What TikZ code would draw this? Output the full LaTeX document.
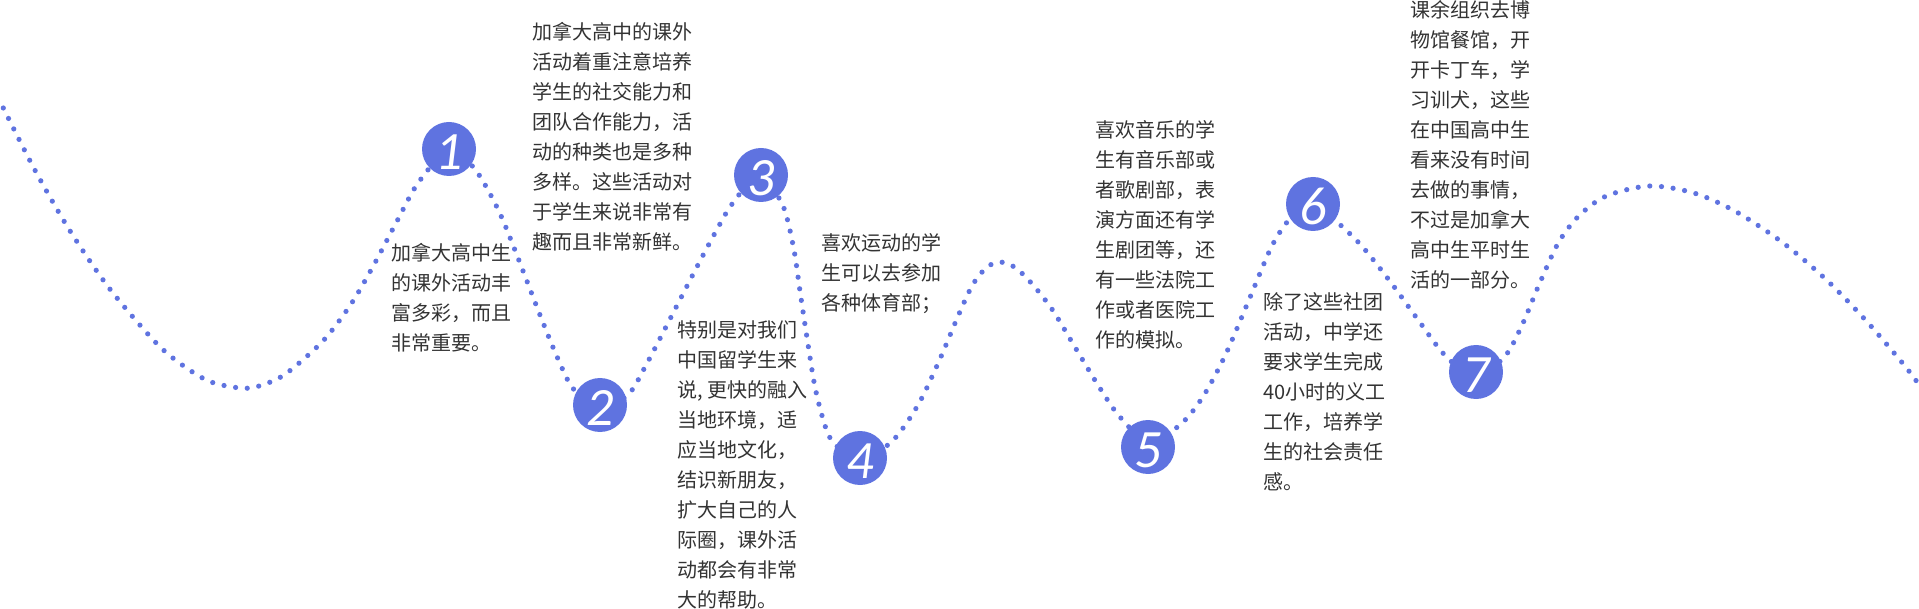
\documentclass[tikz,border=0pt]{standalone}
\usepackage{fontspec}
\setmainfont{Noto Sans CJK SC}
\newfontfamily\numfont{Carlito}
\definecolor{wave}{HTML}{5F73E0}
\definecolor{txt}{HTML}{333333}
\tikzset{
  wavy/.style={wave, line width=5.2pt, line cap=round, dash pattern=on 0pt off 11.7pt},
  numbox/.style={circle, fill=wave, minimum size=54pt, inner sep=0pt, text=white,
    font=\numfont\itshape\fontsize{54}{54}\selectfont, text height=41pt, text depth=0pt},
  para/.style={anchor=north west, inner sep=0pt, align=left, text=txt,
    font=\fontsize{20}{30}\selectfont},
}
\newcommand{\fl}{\rule{0pt}{20pt}}
\begin{document}
\begin{tikzpicture}[x=1pt, y=-1pt]
\useasboundingbox (0,0) rectangle (1919,609);
\draw[wavy] plot[smooth, tension=0.5] coordinates {
 (3.3,108) (34.7,169.7) (69.4,229.9) (108.6,287.4) (153.5,340.2) (179.6,363.1)
 (210.2,381.7) (244.9,388.3) (268.2,382.9) (288.6,371.7) (323.7,340.2) (351.8,302.9)
 (374.7,263.3) (396.3,222.5) (418.4,182.5) (449,150) (474.7,168.9) (497.6,208.5)
 (515.1,250.5) (540,315) (557.6,358) (573.5,389) (600,407) (627.8,395) (646.1,365)
 (672.7,313.8) (699.2,262.5) (720.8,222.5) (733.1,202.7) (758,176) (782,203.5)
 (793.5,247.4) (800.4,294) (807.3,339.8) (814.7,385.6) (822.9,418.6) (831.8,440.4)
 (856,460) (885.7,446.6) (902,429.5) (920.8,400) (940.4,358) (958.4,315.3)
 (972.7,284.7) (986.9,267.2) (1000,262) (1014.7,267.2) (1031,282.7) (1052.2,309.5)
 (1075.9,348.7) (1100,388.3) (1120.4,417.5) (1150,443) (1182.9,422.1) (1204.5,394.2)
 (1226.1,353.4) (1249,299.8) (1271.4,247) (1289.4,219.4) (1312,203) (1337.1,222.1)
 (1361.6,245.8) (1390.2,281.6) (1417.6,319.2) (1445.3,355.7) (1475,377) (1504.1,357.3)
 (1521.2,327) (1539.2,284.3) (1558.4,242.7) (1578.8,215.9) (1606.1,196.1) (1649.4,186)
 (1693.9,193) (1736,211.7) (1783.3,243.1) (1827,280.4) (1866.9,321.6) (1904.5,365.5)
 (1918.8,384.5)};
\node[numbox] (n1) at (449,149) {1};
\node[numbox] (n2) at (600,405) {2};
\node[numbox] (n3) at (761,175) {3};
\node[numbox] (n4) at (860,458) {4};
\node[numbox] (n5) at (1148,447) {5};
\node[numbox] (n6) at (1313,204) {6};
\node[numbox] (n7) at (1476,372) {7};
\node[para] (ta) at (391,240.6) {\fl 加拿大高中生\\的课外活动丰\\富多彩，而且\\非常重要。};
\node[para] (tb) at (532,19.6) {\fl 加拿大高中的课外\\活动着重注意培养\\学生的社交能力和\\团队合作能力，活\\动的种类也是多种\\多样。这些活动对\\于学生来说非常有\\趣而且非常新鲜。};
\node[para] (tc) at (677.6,317.6) {\fl 特别是对我们\\中国留学生来\\说, 更快的融入\\当地环境，适\\应当地文化，\\结识新朋友，\\扩大自己的人\\际圈，课外活\\动都会有非常\\大的帮助。};
\node[para] (td) at (821.6,230.8) {\fl 喜欢运动的学\\生可以去参加\\各种体育部；};
\node[para] (te) at (1095,117.6) {\fl 喜欢音乐的学\\生有音乐部或\\者歌剧部，表\\演方面还有学\\生剧团等，还\\有一些法院工\\作或者医院工\\作的模拟。};
\node[para] (tf) at (1263,289.6) {\fl 除了这些社团\\活动，中学还\\要求学生完成\\40小时的义工\\工作，培养学\\生的社会责任\\感。};
\node[para] (tg) at (1410,-2.7) {\fl 课余组织去博\\物馆餐馆，开\\开卡丁车，学\\习训犬，这些\\在中国高中生\\看来没有时间\\去做的事情，\\不过是加拿大\\高中生平时生\\活的一部分。};
\end{tikzpicture}
\end{document}
